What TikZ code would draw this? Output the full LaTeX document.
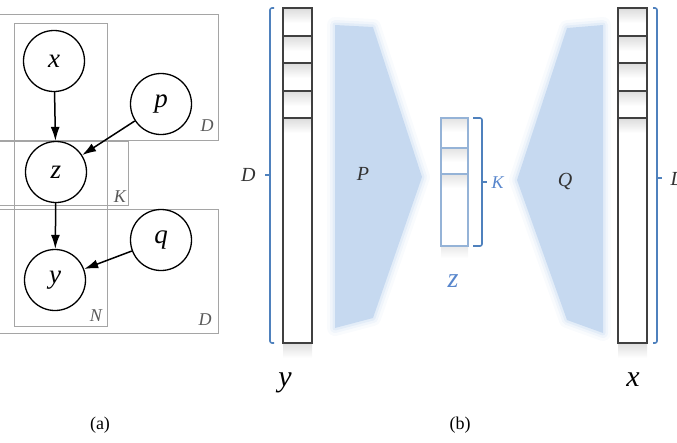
\documentclass[tikz,border=0pt]{standalone}
\usepackage{fontspec}
\setmainfont{Liberation Serif}
\usetikzlibrary{arrows.meta}
\definecolor{braceblue}{RGB}{79,129,189}
\definecolor{mapblue}{RGB}{198,217,240}
\definecolor{zblue}{RGB}{149,179,215}
\definecolor{zlabel}{RGB}{88,134,204}
\definecolor{plategray}{RGB}{165,165,165}

\begin{document}
\begin{tikzpicture}[x=1pt,y=-1pt,
    var/.style={draw, circle, fill=white, line width=1.3pt, minimum size=61pt, inner sep=0pt,
      font=\fontsize{27}{30}\selectfont\itshape},
    edge/.style={line width=1.5pt, -{Latex[length=14pt,width=9pt]}},
    plate/.style={draw=plategray, line width=0.9pt},
    platelab/.style={font=\fontsize{18}{20}\selectfont\itshape, text=black!65},
    vec/.style={draw=black!75, line width=1.1pt},
    zvec/.style={draw=zblue, line width=1.1pt},
    brace/.style={draw=braceblue, line width=1.6pt, rounded corners=2pt},
    maplab/.style={font=\fontsize{20}{22}\selectfont\itshape, text=black!80},
    veclab/.style={font=\fontsize{30}{32}\selectfont\itshape},
    caption/.style={font=\fontsize{18}{20}\selectfont}]
    \useasboundingbox (0,0) rectangle (677,442);

    % (a) plates
    \draw[plate] (-2,14) rectangle (218,140);
    \draw[plate] (-2,141) rectangle (128,205);
    \draw[plate] (-2,209) rectangle (218,333);
    \draw[plate] (14,23) rectangle (107,326);
    \node[platelab] (dtop) at (207,126) {D};
    \node[platelab] (kplate) at (120,197) {K};
    \node[platelab] (nplate) at (96,316) {N};
    \node[platelab] (dbot) at (205,320) {D};

    % (a) variables
    \node[var] (x) at (54,61) {x};
    \node[var] (p) at (161,104) {p};
    \node[var] (z) at (56,172) {z};
    \node[var] (y) at (55,280) {y};
    \node[var] (q) at (161,240) {q};
    \draw[edge] (x) -- (z);
    \draw[edge] (p) -- (z);
    \draw[edge] (z) -- (y);
    \draw[edge] (q) -- (y);

    % (b) maps P and Q, soft edges
    \foreach \w/\o in {16/0.10, 10/0.18, 5/0.3} {
        \draw[mapblue, line width=\w pt, line join=round, opacity=\o]
            (335,25) -- (373,27) -- (422,177) -- (373,318) -- (335,328) -- cycle;
        \draw[mapblue, line width=\w pt, line join=round, opacity=\o]
            (603,25) -- (567,28) -- (517,180) -- (567,320) -- (603,333) -- cycle;
    }
    \fill[mapblue] (335,25) -- (373,27) -- (422,177) -- (373,318) -- (335,328) -- cycle;
    \fill[mapblue] (603,25) -- (567,28) -- (517,180) -- (567,320) -- (603,333) -- cycle;
    \node[maplab] (plab) at (363,174) {P};
    \node[maplab] (qlab) at (565,181) {Q};

    % (b) vectors y and x
    \foreach \cx in {283,618} {
        \shade[top color=black!12, bottom color=white] (\cx,344) rectangle ({\cx+29},358);
        \foreach \yy in {8,36,63,91,118}
            \shade[top color=black!13, bottom color=white] ({\cx+1},{\yy+1}) rectangle ({\cx+28},{\yy+15});
        \draw[vec] (\cx,8) rectangle ({\cx+29},343);
        \foreach \yy in {36,63,91,118}
            \draw[vec] (\cx,\yy) -- ({\cx+29},\yy);
    }

    % (b) code z
    \shade[top color=black!8, bottom color=white] (441,247) rectangle (468,258);
    \foreach \yy in {118,148,174}
        \shade[top color=black!10, bottom color=white] (442,{\yy+1}) rectangle (467,{\yy+14});
    \draw[zvec] (441,118) rectangle (468,246);
    \foreach \yy in {148,174}
        \draw[zvec] (441,\yy) -- (468,\yy);

    % (b) braces
    \draw[brace] (274,8) -- (270,8) -- (270,343) -- (274,343);
    \draw[brace] (270,175) -- (265,175);
    \node[maplab, anchor=east] (dleft) at (259,175) {D};
    \draw[brace] (473,118) -- (482,118) -- (482,246) -- (473,246);
    \draw[brace] (482,182) -- (487,182);
    \node[maplab, anchor=west, text=zlabel, font=\fontsize{18}{20}\selectfont\itshape] (klab) at (488,183) {K};
    \draw[brace] (653,8) -- (657,8) -- (657,343) -- (653,343);
    \draw[brace] (657,178) -- (662,178);
    \node[maplab, anchor=west] (dright) at (667,179) {D};

    % (b) vector names
    \node[veclab] (ylab) at (285,383) {y};
    \node[veclab] (xlab) at (633,380) {x};
    \node[veclab, text=zlabel, font=\fontsize{28}{30}\selectfont\itshape] (zlab) at (453,281) {z};

    % captions
    \node[caption] (capa) at (100,425) {(a)};
    \node[caption] (capb) at (460,425) {(b)};
\end{tikzpicture}
\end{document}
